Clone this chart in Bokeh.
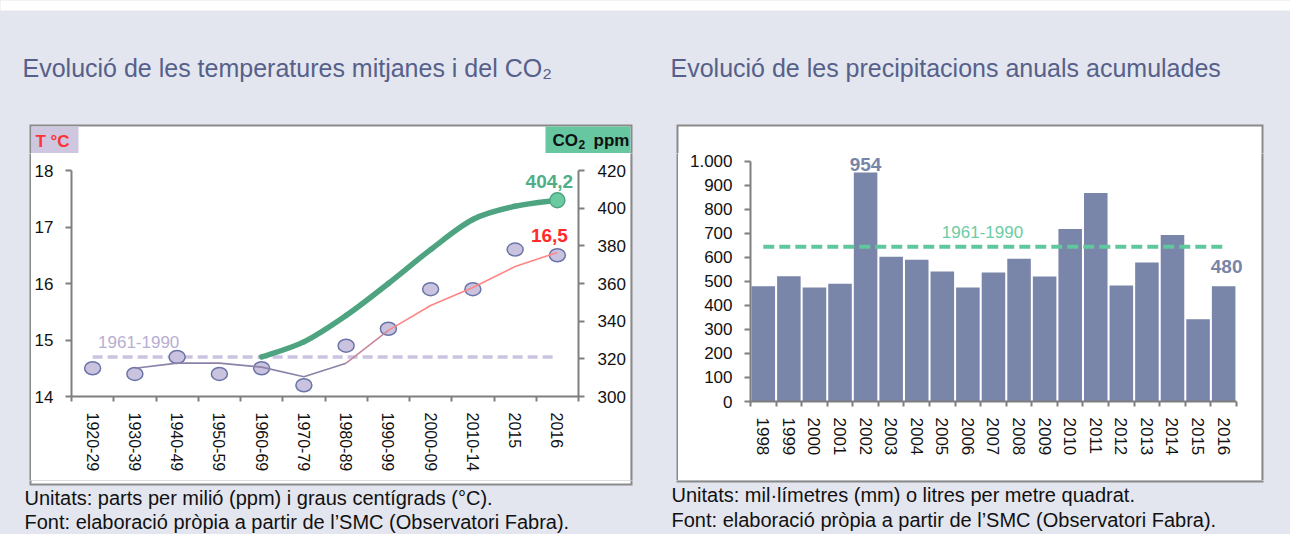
import numpy as np
from bokeh.plotting import figure
from bokeh.layouts import row, column
from bokeh.models import Range1d, LinearAxis, FixedTicker
from bokeh.core.properties import value
from bokeh.embed import file_html
from bokeh.resources import INLINE

# ---------------- data ----------------
decades = ["1920-29", "1930-39", "1940-49", "1950-59", "1960-69", "1970-79",
           "1980-89", "1990-99", "2000-09", "2010-14", "2015", "2016"]
temp_mean = [14.5, 14.4, 14.7, 14.4, 14.5, 14.2, 14.9, 15.2, 15.9, 15.9, 16.6, 16.5]
temp_trend = [None, 14.5, 14.59, 14.59, 14.52, 14.35, 14.59, 15.17, 15.61, 15.93, 16.3, 16.55]
co2_ppm = [None, None, None, None, 321, 329, 343, 360, 378, 394, 401, 404.2]
temp_ref_1961_1990 = 14.7
temp_ticks = [14, 15, 16, 17, 18]
co2_ticks = [300, 320, 340, 360, 380, 400, 420]

years = ["1998", "1999", "2000", "2001", "2002", "2003", "2004", "2005", "2006", "2007",
         "2008", "2009", "2010", "2011", "2012", "2013", "2014", "2015", "2016"]
precip_mm = [480, 522, 475, 490, 954, 603, 590, 541, 475, 537, 595, 521, 719, 868, 483, 579, 694, 343, 480]
precip_ref_1961_1990 = 645
precip_ticks = [0, 100, 200, 300, 400, 500, 600, 700, 800, 900, 1000]

# ---------------- style ----------------
GRAY_BG = "#e3e6ee"
BORDER = "#8a8a8a"
AXIS = "#7f7f7f"
FONT = "Liberation Sans"
TITLE_COLOR = "#56608a"


def canvas(w, h, color):
    f = figure(width=w, height=h, toolbar_location=None, output_backend="svg",
               x_axis_location=None, y_axis_location=None, min_border=0,
               outline_line_color=None, background_fill_color=color,
               border_fill_color=color, x_range=Range1d(0, w), y_range=Range1d(h, 0),
               styles={"background-color": color})
    f.xgrid.visible = False
    f.ygrid.visible = False
    return f


def rect(f, x0, x1, y0, y1, color):
    f.quad(left=[x0], right=[x1], top=[y0], bottom=[y1], fill_color=color, line_color=None)


def style_axis(ax, fs, standoff):
    ax.axis_line_color = AXIS
    ax.axis_line_width = 2
    ax.major_tick_line_color = AXIS
    ax.major_tick_line_width = 2
    ax.major_tick_out = 6
    ax.major_tick_in = 0
    ax.minor_tick_line_color = None
    ax.major_label_text_font = FONT
    ax.major_label_text_font_size = fs
    ax.major_label_text_color = "#111111"
    ax.major_label_standoff = standoff


def style_cat_axis(ax, n, labels, fs):
    centers = [i + 0.5 for i in range(n)]
    ax.ticker = FixedTicker(ticks=centers, minor_ticks=list(range(n + 1)))
    ax.major_label_overrides = {c: lab for c, lab in zip(centers, labels)}
    style_axis(ax, fs, 11)
    ax.major_tick_line_color = None
    ax.major_tick_out = 5
    ax.minor_tick_line_color = AXIS
    ax.minor_tick_line_width = 2
    ax.minor_tick_out = 5
    ax.minor_tick_in = 0
    ax.major_label_orientation = "vertical"
    ax.bounds = (0, n)


MID_H = 327

# ---------------- left chart ----------------
n1 = len(decades)
xc1 = [i + 0.5 for i in range(n1)]

p1 = figure(width=599, height=MID_H, x_range=Range1d(0, n1), y_range=Range1d(14, 18),
            toolbar_location=None, output_backend="svg",
            min_border_left=40, min_border_right=52, min_border_top=17, min_border_bottom=84,
            background_fill_color="white", border_fill_color="white", outline_line_color=None,
            styles={"background-color": "white"})
p1.extra_y_ranges = {"co2": Range1d(300, 420)}
p1.xgrid.visible = False
p1.ygrid.visible = False
p1.yaxis.ticker = FixedTicker(ticks=temp_ticks)
style_axis(p1.yaxis[0], "17px", 12)
style_cat_axis(p1.xaxis[0], n1, decades, "16px")
ax_co2 = LinearAxis(y_range_name="co2", ticker=FixedTicker(ticks=co2_ticks))
style_axis(ax_co2, "17px", 13)
p1.add_layout(ax_co2, "right")

p1.line([xc1[0], xc1[-1]], [temp_ref_1961_1990] * 2, line_color="#cbc3df", line_width=3.5,
        line_dash="10 5")
p1.text(x=[1.59], y=[temp_ref_1961_1990], text=["1961-1990"], y_offset=-15,
        text_font=value(FONT), text_font_size="17px", text_color="#b7aed2",
        text_align="center", text_baseline="middle")

p1.ellipse(x=xc1, y=temp_mean, width=16, height=13, width_units="screen", height_units="screen",
           fill_color="#c9c3e0", line_color="#6b74a8", line_width=1.5)

tx = [xc1[i] for i in range(n1) if temp_trend[i] is not None]
ty = [v for v in temp_trend if v is not None]
k = decades.index("1980-89") - 1
p1.line(tx[:k + 1], ty[:k + 1], line_color="#8b82a8", line_width=1.6)
p1.line(tx[k:k + 2], ty[k:k + 2], line_color="#c4879c", line_width=1.6)
p1.line(tx[k + 1:], ty[k + 1:], line_color="#ff8585", line_width=1.6)

cx = np.array([xc1[i] for i in range(n1) if co2_ppm[i] is not None])
cy = np.array([v for v in co2_ppm if v is not None], dtype=float)
m = len(cx)
x0, y0, x1, y1, c0x, c0y, c1x, c1y = [], [], [], [], [], [], [], []
for i in range(m - 1):
    pm = i - 1 if i > 0 else i
    pp = i + 2 if i + 2 < m else i + 1
    x0.append(cx[i]); y0.append(cy[i]); x1.append(cx[i + 1]); y1.append(cy[i + 1])
    c0x.append(cx[i] + (cx[i + 1] - cx[pm]) / 6); c0y.append(cy[i] + (cy[i + 1] - cy[pm]) / 6)
    c1x.append(cx[i + 1] - (cx[pp] - cx[i]) / 6); c1y.append(cy[i + 1] - (cy[pp] - cy[i]) / 6)
p1.bezier(x0=x0, y0=y0, x1=x1, y1=y1, cx0=c0x, cy0=c0y, cx1=c1x, cy1=c1y,
          y_range_name="co2", line_color="#4ea481", line_width=5.5, line_cap="round")
p1.scatter([cx[-1]], [cy[-1]], y_range_name="co2", size=15, fill_color="#6ccaa0",
           line_color="#4ea481", line_width=1.5)

co2_label = f"{co2_ppm[-1]:.1f}".replace(".", ",")
temp_label = f"{temp_mean[-1]:.1f}".replace(".", ",")
p1.text(x=[xc1[-1]], y=[co2_ppm[-1]], text=[co2_label], y_range_name="co2",
        x_offset=-8, y_offset=-19, text_font=value(FONT), text_font_style="bold",
        text_font_size="19px", text_color="#4fae86", text_align="center",
        text_baseline="middle")
p1.text(x=[xc1[-1]], y=[temp_mean[-1]], text=[temp_label],
        x_offset=-8, y_offset=-20, text_font=value(FONT), text_font_style="bold",
        text_font_size="19px", text_color="#ff2b2b", text_align="center",
        text_baseline="middle")

# ---------------- right chart ----------------
n2 = len(years)
xc2 = [i + 0.5 for i in range(n2)]
p2 = figure(width=583, height=MID_H, x_range=Range1d(0, n2 + 0.55), y_range=Range1d(0, 1033),
            toolbar_location=None, output_backend="svg",
            min_border_left=72, min_border_right=11, min_border_top=0, min_border_bottom=79,
            background_fill_color="white", border_fill_color="white", outline_line_color=None,
            styles={"background-color": "white"})
p2.xgrid.visible = False
p2.ygrid.visible = False
p2.yaxis.ticker = FixedTicker(ticks=precip_ticks)
p2.yaxis.major_label_overrides = {1000: "1.000"}
p2.yaxis.bounds = (0, 1000)
style_axis(p2.yaxis[0], "17px", 12)
style_cat_axis(p2.xaxis[0], n2, years, "17px")

p2.vbar(x=xc2, top=precip_mm, width=0.92, fill_color="#7985a9", line_color=None)
p2.line([xc2[0], xc2[-1]], [precip_ref_1961_1990] * 2, line_color="#5fc89c", line_width=4,
        line_dash="11 5")
p2.text(x=[9.07], y=[precip_ref_1961_1990], text=["1961-1990"], y_offset=-15,
        text_font=value(FONT), text_font_size="17px", text_color="#6dcba3",
        text_align="center", text_baseline="middle")
i_max = years.index("2002")
p2.text(x=[xc2[i_max]], y=[precip_mm[i_max]], text=[str(precip_mm[i_max])], y_offset=-8,
        text_font=value(FONT), text_font_style="bold", text_font_size="19px",
        text_color="#7884a8", text_align="center", text_baseline="middle")
p2.text(x=[xc2[-1]], y=[precip_mm[-1]], text=[str(precip_mm[-1])], x_offset=3, y_offset=-20,
        text_font=value(FONT), text_font_style="bold", text_font_size="19px",
        text_color="#7884a8", text_align="center", text_baseline="middle")

# ---------------- header (page y 0..153) ----------------
header = canvas(1290, 153, GRAY_BG)
rect(header, -5, 1295, -5, 10, "white")
rect(header, 29, 632, 124, 160, BORDER)
rect(header, 31, 630, 126, 160, "white")
rect(header, 676, 1263, 124, 160, BORDER)
rect(header, 678, 1261, 126, 160, "white")
rect(header, 31, 78, 126, 153, "#cfc7e0")
rect(header, 545, 630, 126, 153, "#66c7a0")
header.text(x=[52], y=[141], text=["T °C"], text_font=value(FONT), text_font_style="bold",
            text_font_size="17px", text_color="#ff3333", text_align="center", text_baseline="middle")
header.text(x=[552, 593], y=[140, 140], text=["CO", "ppm"], text_font=value(FONT),
            text_font_style="bold", text_font_size="17px", text_color="#111111",
            text_align="left", text_baseline="middle")
header.text(x=[578], y=[144], text=["2"], text_font=value(FONT), text_font_style="bold",
            text_font_size="12px", text_color="#111111", text_align="left", text_baseline="middle")
header.text(x=[22, 670], y=[67, 67],
            text=["Evolució de les temperatures mitjanes i del CO₂",
                  "Evolució de les precipitacions anuals acumulades"],
            text_font=value(FONT), text_font_size="25px", text_color=TITLE_COLOR,
            text_align="left", text_baseline="middle")

# ---------------- middle row side pieces (page y 153..480) ----------------
sp_left = canvas(31, MID_H, GRAY_BG)
rect(sp_left, 29, 40, -5, MID_H + 5, BORDER)
gap = canvas(48, MID_H, GRAY_BG)
rect(gap, -5, 2, -5, MID_H + 5, BORDER)
rect(gap, 46, 55, -5, MID_H + 5, BORDER)
sp_right = canvas(29, MID_H, GRAY_BG)
rect(sp_right, -5, 2, -5, MID_H + 5, BORDER)

# ---------------- footer (page y 480..534) ----------------
footer = canvas(1290, 54, GRAY_BG)
rect(footer, 29, 632, -5, 5, BORDER)
rect(footer, 31, 630, -5, 3, "white")
rect(footer, 676, 1263, -5, 2, BORDER)
footer.text(x=[24, 24, 671, 671], y=[17, 41, 14, 39],
            text=["Unitats: parts per milió (ppm) i graus centígrads (°C).",
                  "Font: elaboració pròpia a partir de l’SMC (Observatori Fabra).",
                  "Unitats: mil·límetres (mm) o litres per metre quadrat.",
                  "Font: elaboració pròpia a partir de l’SMC (Observatori Fabra)."],
            text_font=value(FONT), text_font_size="20px", text_color="#111111",
            text_align="left", text_baseline="middle")

middle = row(sp_left, column(p1), gap, column(p2), sp_right,
             styles={"background-color": GRAY_BG})
page = column(header, middle, footer, styles={"background-color": GRAY_BG})

open("out.html", "w").write(file_html(page, INLINE))
